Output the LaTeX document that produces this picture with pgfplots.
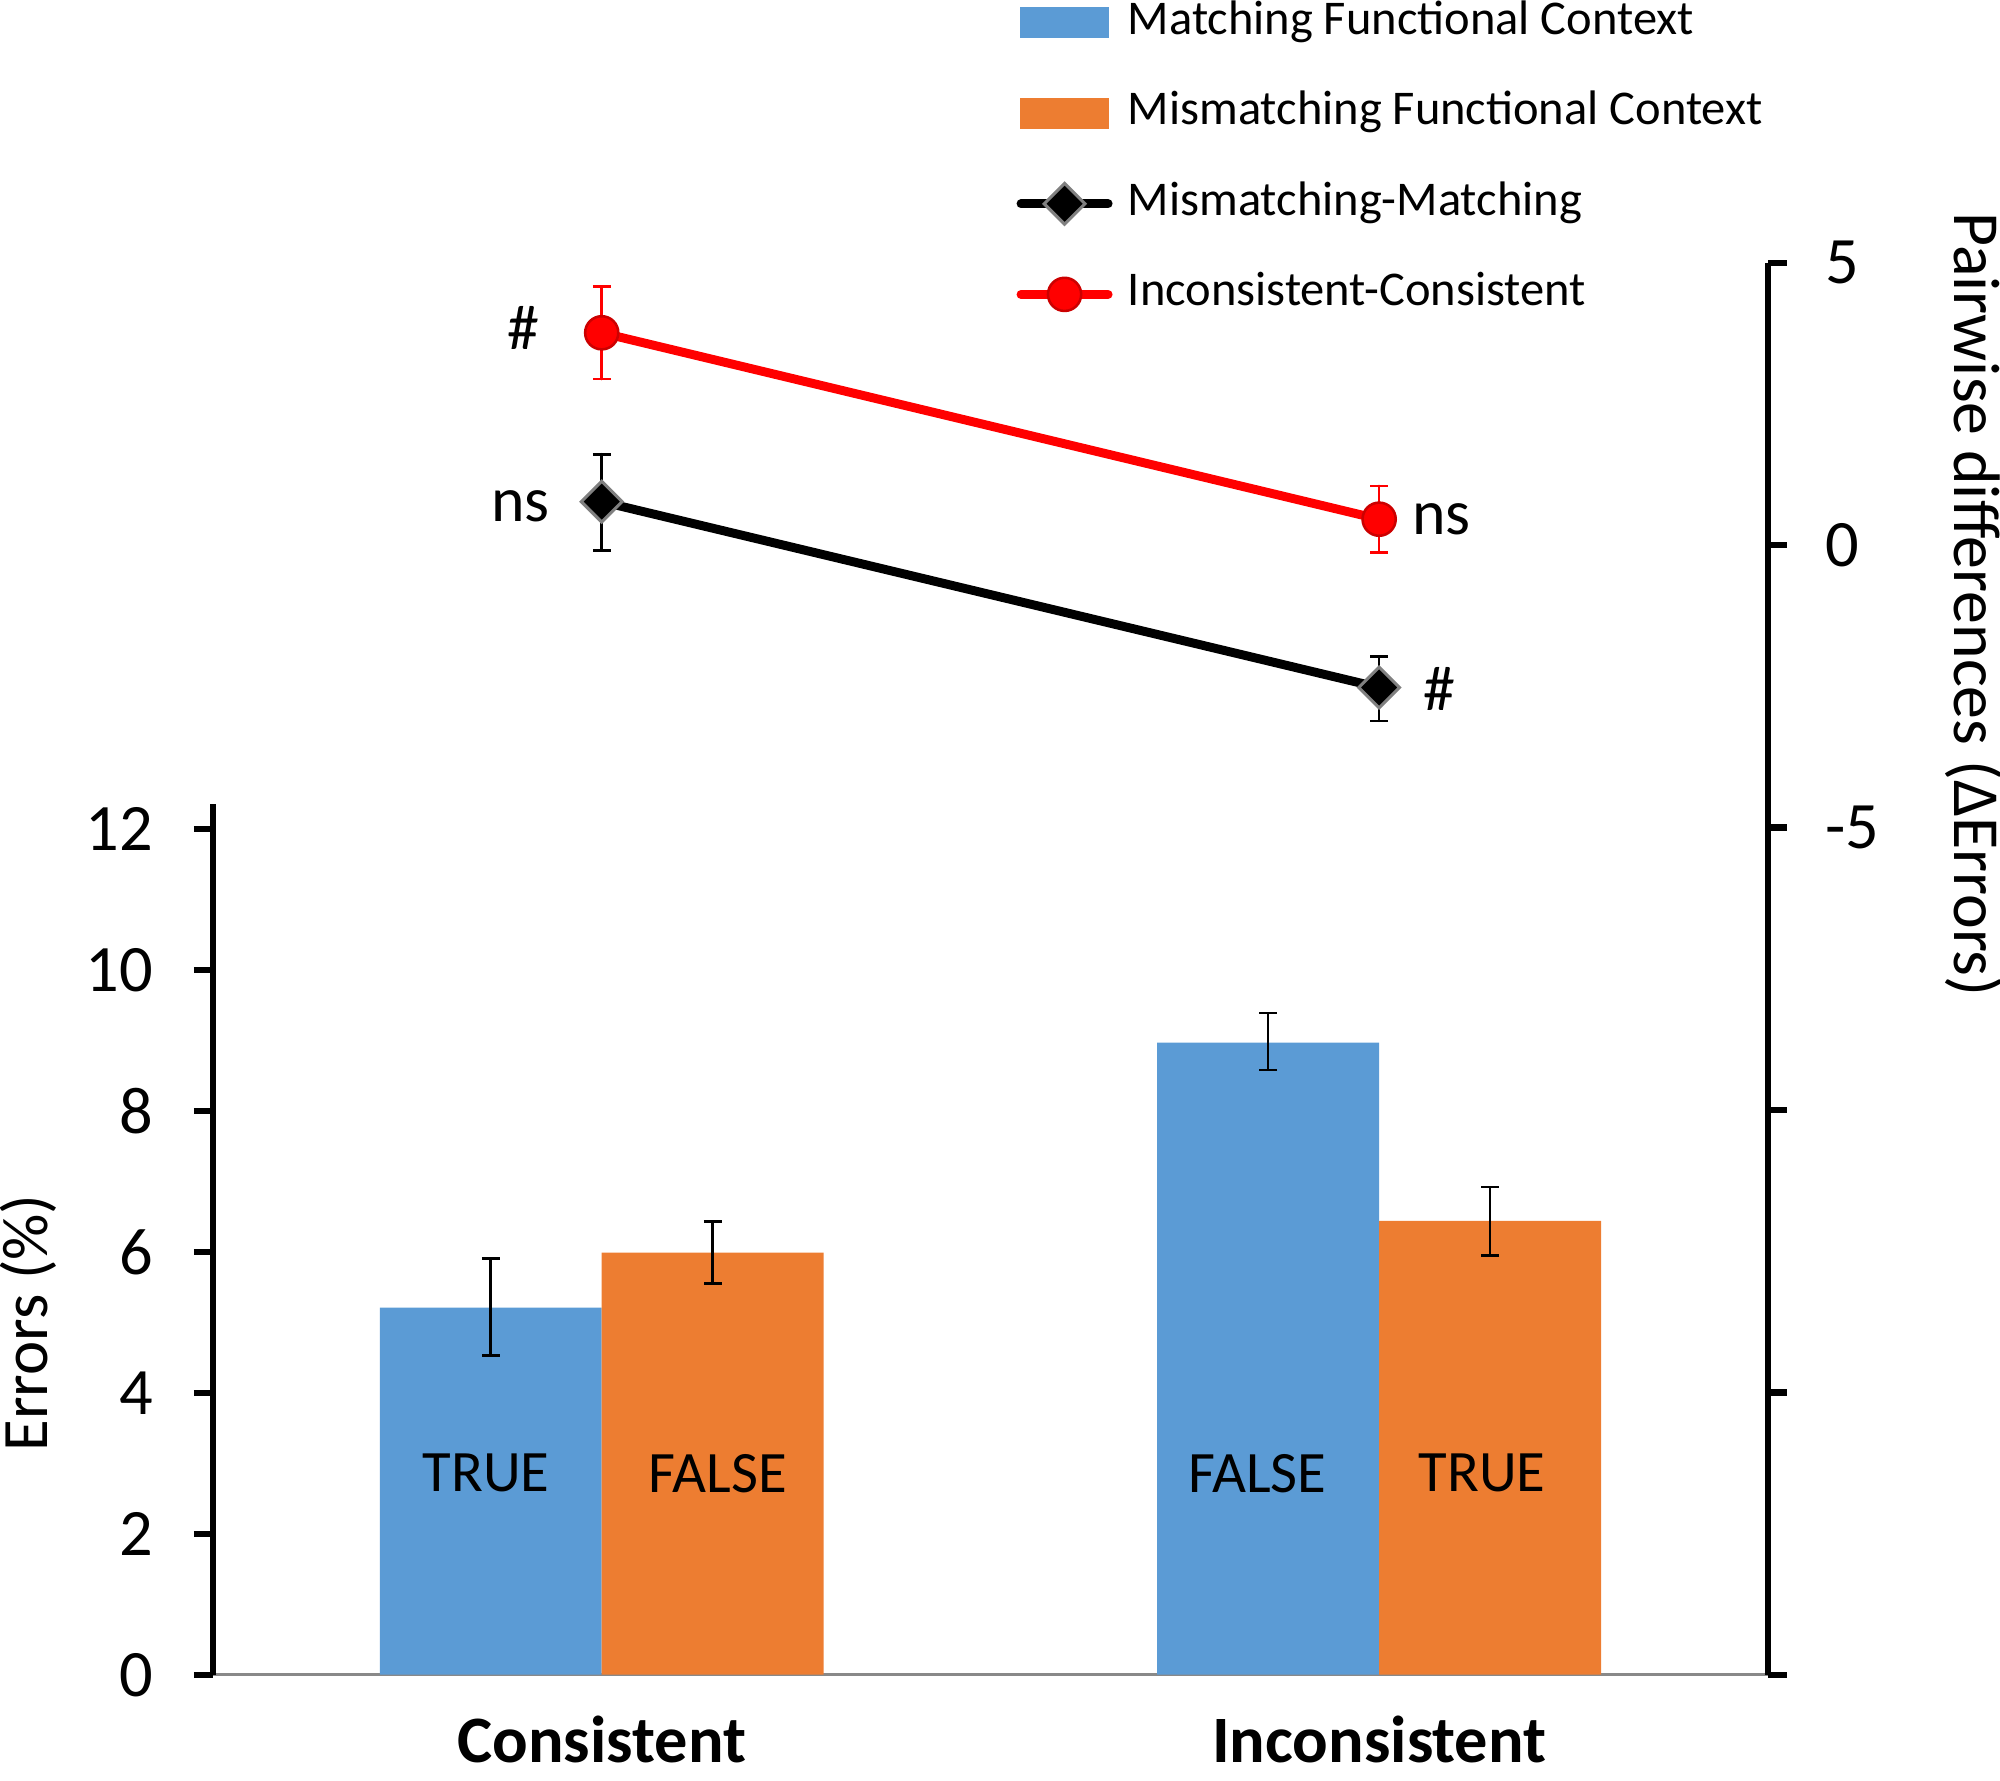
\documentclass[border=0pt]{standalone}
\usepackage{pgfplots}
\pgfplotsset{compat=1.18}
\usepackage{fontspec}
\setmainfont{Carlito}
\definecolor{barblue}{HTML}{5B9BD5}
\definecolor{barorange}{HTML}{ED7D31}
\definecolor{axgray}{HTML}{898989}
\pgfdeclareplotmark{sqdiamond}{%
  \pgfpathmoveto{\pgfqpoint{0pt}{\pgfplotmarksize}}%
  \pgfpathlineto{\pgfqpoint{\pgfplotmarksize}{0pt}}%
  \pgfpathlineto{\pgfqpoint{0pt}{-\pgfplotmarksize}}%
  \pgfpathlineto{\pgfqpoint{-\pgfplotmarksize}{0pt}}%
  \pgfpathclose
  \pgfusepathqfillstroke
}
\begin{document}
\begin{tikzpicture}
\path[use as bounding box] (-41.75pt,-20.75pt) rectangle (350.25pt,328.25pt);
% ---------- bars (left axis) ----------
\begin{axis}[
  at={(0pt,0pt)}, anchor=south west, scale only axis,
  width=304.75pt, height=170.72pt,
  xmin=0, xmax=2, ymin=0, ymax=12.36,
  axis x line*=bottom, axis y line*=left,
  x axis line style={-, draw=axgray, line width=0.6pt},
  y axis line style={-, draw=black, line width=1.25pt},
  xtick=\empty,
  minor xtick={0,1,2},
  minor x tick style={draw=axgray, line width=0.5pt},
  minor tick length=4pt,
  ytick={0,2,4,6,8,10,12}, yticklabels={0,2,4,6,8,10,12},
  major y tick style={draw=black, line width=1.25pt},
  tick align=outside, major tick length=3.75pt,
  yticklabel style={font=\fontsize{13}{15}\selectfont, xshift=-4.5pt},
  ylabel={Errors (\%)},
  every axis y label/.style={at={(axis description cs:-0.119,0.404)}, rotate=90, anchor=center, font=\fontsize{12.7}{15}\selectfont},
  clip=false,
]
\addplot[ybar, bar width=0.2855, bar shift=0pt, fill=barblue, draw=none,
  error bars/.cd, y dir=both, y explicit,
  error bar style={draw=black, line width=0.5pt},
  error mark options={rotate=90, draw=black, line width=0.5pt, mark size=1.75pt}]
  coordinates {(0.35725,5.21) += (0,0.70) -= (0,0.68)
               (1.35725,8.97) += (0,0.42) -= (0,0.39)};
\addplot[ybar, bar width=0.2855, bar shift=0pt, fill=barorange, draw=none,
  error bars/.cd, y dir=both, y explicit,
  error bar style={draw=black, line width=0.5pt},
  error mark options={rotate=90, draw=black, line width=0.5pt, mark size=1.75pt}]
  coordinates {(0.64275,5.99) += (0,0.44) -= (0,0.44)
               (1.64275,6.44) += (0,0.48) -= (0,0.49)};
\node[font=\fontsize{11.5}{13}\selectfont] at (axis cs:0.3511,2.86) {TRUE};
\node[font=\fontsize{11.5}{13}\selectfont] at (axis cs:0.6494,2.86) {FALSE};
\node[font=\fontsize{11.5}{13}\selectfont] at (axis cs:1.3434,2.86) {FALSE};
\node[font=\fontsize{11.5}{13}\selectfont] at (axis cs:1.6323,2.86) {TRUE};
\node[font=\fontsize{13}{15}\selectfont\bfseries, anchor=base, inner sep=0pt] at (axis cs:0.5,-1.25) {Consistent};
\node[font=\fontsize{13}{15}\selectfont\bfseries, anchor=base, inner sep=0pt] at (axis cs:1.5,-1.25) {Inconsistent};
\end{axis}
% ---------- pairwise differences (right axis) ----------
\begin{axis}[
  at={(0pt,0pt)}, anchor=south west, scale only axis,
  width=304.75pt, height=276.75pt,
  xmin=0, xmax=2, ymin=-20, ymax=5,
  axis x line=none, axis y line*=right,
  y axis line style={-, draw=black, line width=1.25pt},
  ytick={-20,-15,-10,-5,0,5}, yticklabels={{},{},{},-5,0,5},
  major y tick style={draw=black, line width=1.25pt},
  tick align=outside, major tick length=3.75pt,
  yticklabel style={font=\fontsize{13}{15}\selectfont, anchor=west, xshift=4pt},
  ylabel={Pairwise differences (ΔErrors)},
  every axis y label/.style={at={(axis description cs:1.1329,0.7580)}, rotate=-90, anchor=center, font=\fontsize{12.9}{15}\selectfont},
  clip=false,
  legend cell align=left,
  legend style={draw=none, fill=none, at={(axis description cs:0.5168,1.1872)}, anchor=north west,
    inner sep=0pt, outer sep=0pt, row sep=8.25pt, column sep=3pt,
    font=\fontsize{9.5}{11}\selectfont,
    nodes={inner sep=0pt, text height=7pt, text depth=2.5pt}},
]
\addlegendimage{area legend, fill=barblue, draw=barblue}
\addlegendentry{Matching Functional Context}
\addlegendimage{area legend, fill=barorange, draw=barorange}
\addlegendentry{Mismatching Functional Context}
\addplot[black, line width=1.75pt, line cap=round, mark=sqdiamond, mark size=4pt,
  mark options={fill=black, draw=gray, line width=0.6pt},
  error bars/.cd, y dir=both, y explicit,
  error bar style={draw=black, line width=0.5pt},
  error mark options={rotate=90, draw=black, line width=0.5pt, mark size=1.75pt}]
  coordinates {(0.5,0.77) += (0,0.84) -= (0,0.86)
               (1.5,-2.52) += (0,0.55) -= (0,0.59)};
\addlegendentry{Mismatching-Matching}
\addplot[red, line width=1.75pt, line cap=round, mark=*, mark size=3.25pt,
  mark options={fill=red, draw=red!80!black, line width=0.5pt},
  error bars/.cd, y dir=both, y explicit,
  error bar style={draw=red, line width=0.5pt},
  error mark options={rotate=90, draw=red, line width=0.5pt, mark size=1.75pt}]
  coordinates {(0.5,3.76) += (0,0.82) -= (0,0.82)
               (1.5,0.46) += (0,0.59) -= (0,0.59)};
\addlegendentry{Inconsistent-Consistent}
\node[font=\fontsize{12.5}{15}\selectfont] at (axis cs:0.3987,3.85) {\#};
\node[font=\fontsize{12.5}{15}\selectfont] at (axis cs:0.3954,0.69) {ns};
\node[font=\fontsize{12.5}{15}\selectfont] at (axis cs:1.580,0.46) {ns};
\node[font=\fontsize{12.5}{15}\selectfont] at (axis cs:1.578,-2.54) {\#};
\end{axis}
\end{tikzpicture}
\end{document}
